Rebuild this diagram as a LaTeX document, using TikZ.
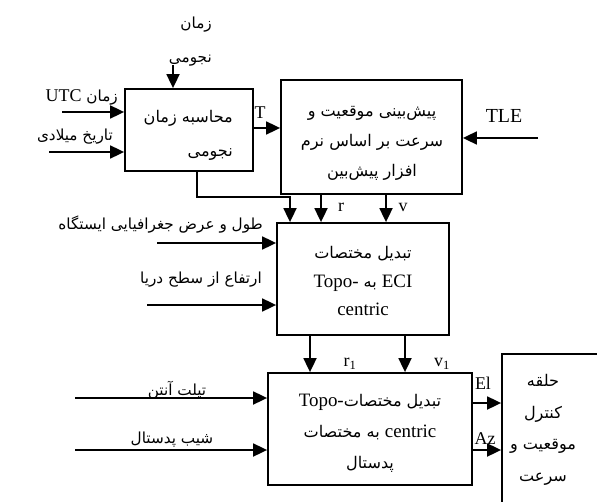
\documentclass[tikz,border=0pt]{standalone}
\usepackage{fontspec}
\setmainfont{Liberation Serif}
\newfontfamily\fa[Script=Arabic,Scale=0.85]{DejaVu Sans}
\TeXXeTstate=1
\usetikzlibrary{arrows.meta}
\newcommand{\FA}[1]{{\fa\beginR #1\endR}}
\newcommand{\LT}[1]{\beginL{\rmfamily #1}\endL}
\begin{document}
\begin{tikzpicture}[x=1bp,y=-1bp,
  box/.style={draw,line width=1.8bp,fill=white,inner sep=0},
  arr/.style={line width=1.8bp,-{Triangle[length=14bp,width=13bp]}},
  lbl/.style={inner sep=0,font=\fontsize{18}{22}\selectfont},
  txt/.style={inner sep=0,font=\fontsize{19}{30}\selectfont,align=center}]
\path[use as bounding box] (0,0) rectangle (597,502);
\clip (0,0) rectangle (597,502);
% boxes
\node[box,minimum width=128bp,minimum height=82bp] (b1) at (189,130) {};
\node[box,minimum width=181bp,minimum height=114bp] (b2) at (371.5,137) {};
\node[box,minimum width=172bp,minimum height=112bp] (b3) at (363,279) {};
\node[box,minimum width=204bp,minimum height=112bp] (b4) at (370,429) {};
\node[box,minimum width=108bp,minimum height=166bp] (b5) at (556,437) {};
% box texts
\node[txt,align=right,anchor=east,font=\fontsize{19}{34}\selectfont] (t1) at (233,135) {\FA{محاسبه زمان}\\\FA{نجومی}};
\node[txt] (t2) at (372,143) {\FA{پیش‌بینی موقعیت و}\\\FA{سرعت بر اساس نرم}\\\FA{افزار پیش‌بین}};
\node[txt,font=\fontsize{19}{29}\selectfont] (t3) at (363,281) {\FA{تبدیل مختصات}\\\FA{\LT{ECI} به \LT{Topo-}}\\centric};
\node[txt,font=\fontsize{19}{31}\selectfont] (t4) at (370,433) {\FA{تبدیل مختصات\LT{Topo-}}\\\FA{\LT{centric} به مختصات}\\\FA{پدستال}};
\node[txt,font=\fontsize{19}{31.6}\selectfont] (t5) at (543,430) {\FA{حلقه}\\\FA{کنترل}\\\FA{موقعیت و}\\\FA{سرعت}};
% input coordinates
\coordinate (iLST) at (173,65);
\coordinate (iUTC) at (62,112);
\coordinate (iDate) at (49,152);
\coordinate (yT) at (0,128);
\coordinate (iTLE) at (538,138);
\coordinate (k1) at (197,0);
\coordinate (k2) at (290,197);
\coordinate (xr) at (321,0);
\coordinate (xv) at (386,0);
\coordinate (iGeo) at (157,243);
\coordinate (iAlt) at (147,305);
\coordinate (xr1) at (310,0);
\coordinate (xv1) at (405,0);
\coordinate (iTilt) at (75,398);
\coordinate (iPed) at (75,450);
\coordinate (yEl) at (0,403);
\coordinate (yAz) at (0,450);
% connectors
\draw[arr] (iLST) -- (iLST |- b1.north);
\draw[arr] (iUTC) -- (b1.west |- iUTC);
\draw[arr] (iDate) -- (b1.west |- iDate);
\draw[arr] (b1.east |- yT) -- (b2.west |- yT);
\draw[arr] (iTLE) -- (b2.east |- iTLE);
\draw[arr] (b1.south -| k1) |- (k2) -- (k2 |- b3.north);
\draw[arr] (b2.south -| xr) -- (b3.north -| xr);
\draw[arr] (b2.south -| xv) -- (b3.north -| xv);
\draw[arr] (iGeo) -- (b3.west |- iGeo);
\draw[arr] (iAlt) -- (b3.west |- iAlt);
\draw[arr] (b3.south -| xr1) -- (b4.north -| xr1);
\draw[arr] (b3.south -| xv1) -- (b4.north -| xv1);
\draw[arr] (iTilt) -- (b4.west |- iTilt);
\draw[arr] (iPed) -- (b4.west |- iPed);
\draw[arr] (b4.east |- yEl) -- (b5.west |- yEl);
\draw[arr] (b4.east |- yAz) -- (b5.west |- yAz);
% labels
\node[lbl,align=right,anchor=east,font=\fontsize{18}{34}\selectfont] (lLST) at (212,42) {\FA{زمان}\\\FA{نجومی}};
\node[lbl,anchor=east] (lUTC) at (118,97) {\FA{زمان \LT{UTC}}};
\node[lbl,anchor=east] (lDate) at (113,137) {\FA{تاریخ میلادی}};
\node[lbl] (lT) at (260,113) {T};
\node[lbl,font=\fontsize{20}{22}\selectfont] (lTLE) at (504,116) {TLE};
\node[lbl] (lr) at (341,207) {r};
\node[lbl] (lv) at (403,207) {v};
\node[lbl,anchor=east] (lGeo) at (263,225) {\FA{طول و عرض جغرافیایی ایستگاه}};
\node[lbl,anchor=east] (lAlt) at (262,280) {\FA{ارتفاع از سطح دریا}};
\node[lbl] (lr1) at (350,364) {r\textsubscript{1}};
\node[lbl] (lv1) at (442,364) {v\textsubscript{1}};
\node[lbl] (lTilt) at (177,390) {\FA{تیلت آنتن}};
\node[lbl] (lPed) at (172,440) {\FA{شیب پدستال}};
\node[lbl] (lEl) at (483,383) {El};
\node[lbl] (lAz) at (485,439) {Az};
\end{tikzpicture}
\end{document}
